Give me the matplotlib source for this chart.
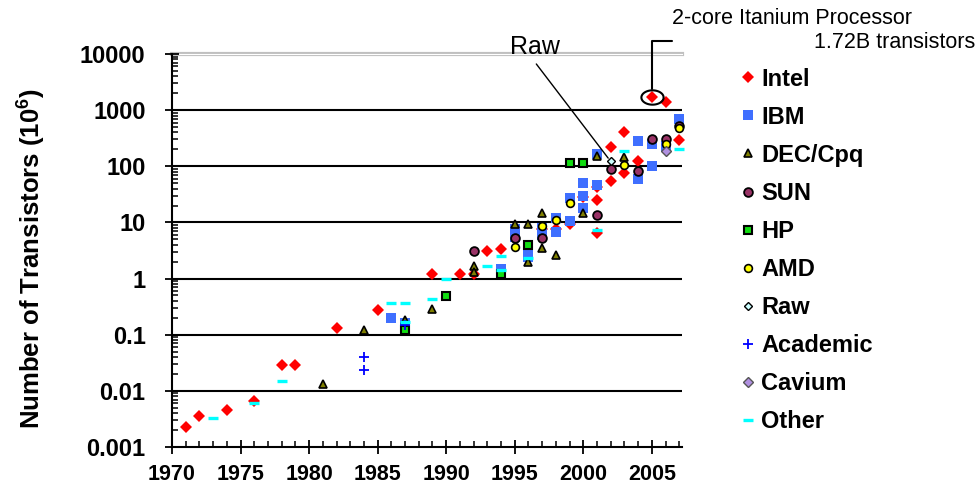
import numpy as np
import matplotlib.pyplot as plt
from matplotlib.path import Path
from matplotlib.ticker import MultipleLocator, LogLocator, NullFormatter

plt.rcParams['font.family'] = 'Liberation Sans'
plt.rcParams['mathtext.fontset'] = 'custom'
plt.rcParams['mathtext.bf'] = 'Liberation Sans:bold'
plt.rcParams['mathtext.rm'] = 'Liberation Sans'

# transistor counts in millions
intel_years = [1971, 1972, 1974, 1976, 1978, 1979, 1982, 1985, 1989, 1991, 1992, 1993, 1994,
               1997, 1998, 1999, 2000, 2001, 2001, 2001, 2002, 2002, 2003, 2003, 2004, 2005, 2006, 2007]
intel_vals = [0.0023, 0.0035, 0.0045, 0.0065, 0.029, 0.029, 0.134, 0.275, 1.2, 1.2, 1.2, 3.1, 3.3,
              7.5, 7.5, 9.5, 28, 42, 25, 6.4, 220, 55, 410, 77, 125, 1720, 1400, 290]
ibm_years = [1986, 1987, 1994, 1995, 1995, 1996, 1996, 1997, 1997, 1998, 1998, 1999, 1999,
             2000, 2000, 2000, 2001, 2001, 2004, 2004, 2005, 2005, 2006, 2007]
ibm_vals = [0.2, 0.16, 1.5, 7.5, 5.5, 3.2, 2.4, 7.8, 6.0, 12, 6.7, 27, 10.4,
            50, 30, 18, 166, 47, 280, 60, 250, 100, 230, 700]
dec_years = [1981, 1984, 1987, 1989, 1992, 1992, 1995, 1996, 1996, 1997, 1997, 1998, 2000, 2001, 2003]
dec_vals = [0.013, 0.12, 0.18, 0.29, 1.7, 1.3, 9.4, 9.4, 2.0, 15, 3.5, 2.6, 15, 150, 145]
sun_years = [1992, 1995, 1997, 2001, 2002, 2004, 2005, 2006, 2007]
sun_vals = [3.1, 5.3, 5.3, 13.5, 90, 82, 300, 300, 520]
hp_years = [1987, 1990, 1994, 1996, 1999, 2000]
hp_vals = [0.12, 0.48, 1.2, 3.9, 116, 116]
amd_years = [1995, 1997, 1998, 1999, 2003, 2006, 2007]
amd_vals = [3.6, 8.8, 11, 22, 106, 250, 475]
raw_years = [2002]
raw_vals = [122]
academic_years = [1984, 1984, 1987]
academic_vals = [0.04, 0.024, 0.15]
cavium_years = [2006]
cavium_vals = [185]
other_years = [1973, 1976, 1978, 1986, 1987, 1987, 1989, 1990, 1993, 1994, 1994, 1996, 2001, 2003, 2007]
other_vals = [0.0033, 0.006, 0.015, 0.36, 0.36, 0.17, 0.44, 1.0, 1.65, 2.5, 1.4, 2.35, 7.2, 190, 205]

xtick_years = [1970, 1975, 1980, 1985, 1990, 1995, 2000, 2005]
ytick_vals = [0.001, 0.01, 0.1, 1, 10, 100, 1000, 10000]
ytick_labels = ['0.001', '0.01', '0.1', '1', '10', '100', '1000', '10000']

series = [
    ('Intel', intel_years, intel_vals, dict(marker='D', ms=6.1, mfc='#ff0000', mec='#ff0000', mew=0)),
    ('IBM', ibm_years, ibm_vals, dict(marker='s', ms=6.6, mfc='#3f6fff', mec='#3f6fff', mew=0)),
    ('DEC/Cpq', dec_years, dec_vals, dict(marker='^', ms=6.3, mfc='#808000', mec='black', mew=1.2)),
    ('SUN', sun_years, sun_vals, dict(marker='o', ms=6.3, mfc='#993366', mec='black', mew=1.3)),
    ('HP', hp_years, hp_vals, dict(marker='s', ms=6, mfc='#11dd11', mec='black', mew=1.5)),
    ('AMD', amd_years, amd_vals, dict(marker='o', ms=5.6, mfc='#ffff00', mec='black', mew=1.2)),
    ('Raw', raw_years, raw_vals, dict(marker='D', ms=4.4, mfc='#ccffff', mec='black', mew=1)),
    ('Academic', academic_years, academic_vals, dict(marker='+', ms=7, mfc='#0000ff', mec='#0000ff', mew=1.3)),
    ('Cavium', cavium_years, cavium_vals, dict(marker='D', ms=5.2, mfc='#b090e0', mec='#555555', mew=1)),
    ('Other', other_years, other_vals, dict(marker='_', ms=6.5, mfc='#00ffff', mec='#00ffff', mew=2.4)),
]

fig = plt.figure(figsize=(9.8, 4.96), dpi=100)
ax = fig.add_axes([172 / 980, 1 - 447 / 496, 510 / 980, 393 / 496])
ax.set_yscale('log')
ax.set_xlim(1970, 2007.2)
ax.set_ylim(ytick_vals[0], ytick_vals[-1])

# horizontal grid lines, top one is the grey plot-area border
for v in ytick_vals[1:-1]:
    ax.axhline(v, color='black', lw=1.5, zorder=1)
ax.axhline(ytick_vals[-1], color='#c0c0c0', lw=3, zorder=1, clip_on=False)
ax.axhline(ytick_vals[-1], color='white', lw=0.8, zorder=1, clip_on=False)

handles = []
for name, xs, ys, st in series:
    h, = ax.plot(xs, ys, ls='none', label=name, zorder=3, clip_on=False, **st)
    handles.append(h)

# callouts
ax.annotate('Raw', xy=(raw_years[0], raw_vals[0]), xytext=(535, 496 - 47),
            textcoords='figure pixels', ha='center', va='center', fontsize=18,
            arrowprops=dict(arrowstyle='-', color='black', lw=1, relpos=(0.45, 0),
                            shrinkA=2, shrinkB=3))

ita = intel_vals.index(1720)
t = np.linspace(0, 2 * np.pi, 80)
ellipse = Path(np.column_stack([1.55 * np.cos(t), np.sin(t)]))
ax.plot(intel_years[ita], intel_vals[ita], marker=ellipse, ms=16, mfc='none', mec='black',
        mew=1.5, ls='none', zorder=4, clip_on=False)
ax.annotate('', xy=(intel_years[ita], intel_vals[ita]), xytext=(672, 496 - 41),
            textcoords='figure pixels',
            arrowprops=dict(arrowstyle='-', color='black', lw=1.5,
                            connectionstyle='angle,angleA=0,angleB=90,rad=0',
                            shrinkA=0, shrinkB=5.5))
fig.text(672 / 980, 1 - 18 / 496, '2-core Itanium Processor', ha='left', va='center', fontsize=15.5)
fig.text(975 / 980, 1 - 42 / 496, '1.72B transistors', ha='right', va='center', fontsize=15.5)

# axes styling
for s in ['top', 'right']:
    ax.spines[s].set_visible(False)
for s in ['left', 'bottom']:
    ax.spines[s].set_linewidth(1.5)

ax.set_xticks(xtick_years)
ax.set_xticklabels([str(y) for y in xtick_years], fontweight='bold', fontsize=15.5)
ax.xaxis.set_minor_locator(MultipleLocator(1))
ax.set_yticks(ytick_vals)
ax.set_yticklabels(ytick_labels, fontweight='bold', fontsize=17)
ax.yaxis.set_minor_locator(LogLocator(base=10, subs=np.arange(2, 10)))
ax.yaxis.set_minor_formatter(NullFormatter())

ax.tick_params(axis='both', which='major', direction='inout', length=10, width=1.3)
ax.tick_params(axis='both', which='minor', direction='in', length=4, width=1.1)
ax.tick_params(axis='y', which='major', pad=14)
ax.tick_params(axis='x', which='major', pad=7)

fig.text(31 / 980, 1 - 259 / 496, 'Number of Transistors (10$^{\\mathbf{6}}$)', rotation=90,
         ha='center', va='center', fontsize=18.5, fontweight='bold')

fig.legend(handles=handles, loc='upper left', bbox_to_anchor=(741 / 980, 1 - 67.5 / 496),
           frameon=False, prop=dict(weight='bold', size=17), handlelength=0.6,
           handletextpad=0.25, labelspacing=0.64, borderpad=0, borderaxespad=0, numpoints=1)

fig.savefig('out.png', dpi=100)
